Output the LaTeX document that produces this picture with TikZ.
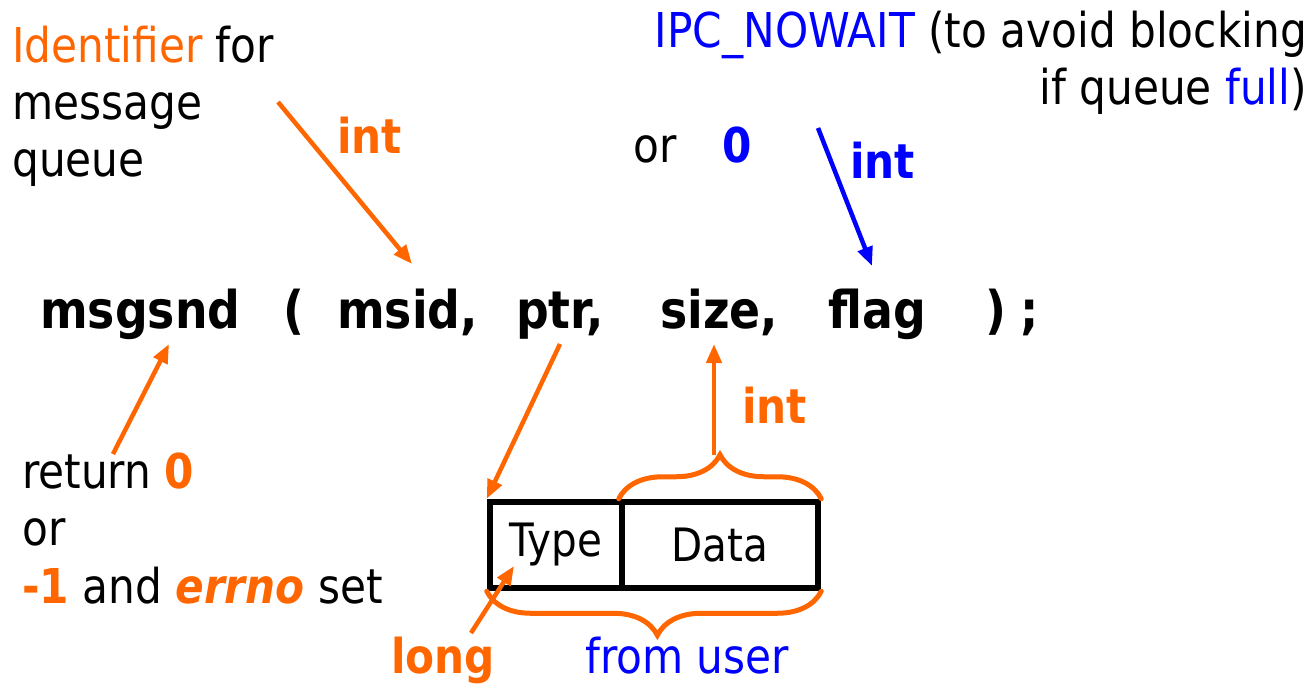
\documentclass[tikz,border=0pt]{standalone}
\usepackage{fontspec}
\setmainfont{DejaVu Sans}[FakeStretch=0.88]
\usetikzlibrary{arrows.meta,decorations.pathreplacing}
\definecolor{hot}{HTML}{FF6600}
\definecolor{cool}{HTML}{0000FF}
\tikzset{
  txt/.style={anchor=base west,inner sep=0pt,font=\fontsize{48}{57}\selectfont},
  code/.style={anchor=base west,inner sep=0pt,font=\fontsize{52}{60}\selectfont\bfseries},
  tag/.style={anchor=base west,inner sep=0pt,font=\fontsize{48}{57}\selectfont\bfseries},
  ptr arrow/.style={line width=4.5pt,-{Triangle[length=19pt,width=15pt]}},
  cell/.style={draw=black,line width=6.5pt,minimum height=86pt,inner sep=0pt,
    font=\fontsize{46}{54}\selectfont},
  curly/.style={draw=hot,line width=5pt,line cap=round,decorate,
    decoration={brace,amplitude=44pt}},
}
\begin{document}
\begin{tikzpicture}[x=1pt,y=-1pt]
\useasboundingbox (0,0) rectangle (1314,689);

% the call itself
\node[code] (fn)   at (40,328)   {msgsnd};
\node[code] (lp)   at (283,328)  {(};
\node[code] (msid) at (337,328)  {msid,};
\node[code] (ptr)  at (516,328)  {ptr,};
\node[code] (size) at (660,328)  {size,};
\node[code] (flag) at (828,328)  {flag};
\node[code] (rp)   at (985,328)  {)};
\node[code] (semi) at (1020,328) {;};

% first argument
\node[txt] (id1) at (12,62)  {\textcolor{hot}{Identifier} for};
\node[txt] (id2) at (12,119) {message};
\node[txt] (id3) at (12,176) {queue};
\node[tag,text=hot] (tmsid) at (337,153) {int};

% flag argument
\node[txt,anchor=base east] (fl1) at (1307,47)
  {\textcolor{cool}{IPC\_NOWAIT} (to avoid blocking};
\node[txt,anchor=base east] (fl2) at (1307,104)
  {if queue \textcolor{cool}{full})};
\node[txt] (flor) at (633,162) {or};
\node[tag,text=cool] (flzero) at (722,162) {0};
\node[tag,text=cool] (tflag) at (850,178) {int};

% return value
\node[txt] (ret1) at (22,488) {return \textcolor{hot}{\bfseries 0}};
\node[txt] (ret2) at (22,545) {or};
\node[txt] (ret3) at (22,603)
  {\textcolor{hot}{\bfseries -1} and \textcolor{hot}{\bfseries\itshape errno} set};

% message buffer
\node[cell,minimum width=132pt] (type) at (556,545) {Type};
\node[cell,minimum width=196pt] (data) at (720,545) {Data};
\node[tag,text=hot] (tsize) at (742,423) {int};
\node[tag,text=hot] (tlong) at (391,673) {long};
\node[txt,text=cool] (user) at (585,673) {from user};

% braces over the data part and under the whole buffer
\draw[curly] (data.north west) -- (data.north east)
  coordinate[pos=0.5] (dmid);
\draw[curly,decoration={brace,amplitude=44pt,aspect=0.49}]
  (data.south east) -- (type.south west);

% arrow end points
\coordinate (a1s) at (278,102);
\coordinate (a1e) at (412,264);
\coordinate (a2s) at (818,128);
\coordinate (a2e) at (872,266);
\coordinate (a3s) at (113,454);
\coordinate (a3e) at (169,344);
\coordinate (a4s) at (560,344);
\coordinate (a5s) at (714,455);
\coordinate (a5e) at (714,344);
\coordinate (a6s) at (471,633);
\coordinate (a6e) at (514,566);

\draw[ptr arrow,hot]  (a1s) -- (a1e);
\draw[ptr arrow,cool] (a2s) -- (a2e);
\draw[ptr arrow,hot]  (a3s) -- (a3e);
\draw[ptr arrow,hot]  (a4s) -- (type.north west);
\draw[ptr arrow,hot]  (a5s) -- (a5e);
\draw[ptr arrow,hot]  (a6s) -- (a6e);
\end{tikzpicture}
\end{document}
